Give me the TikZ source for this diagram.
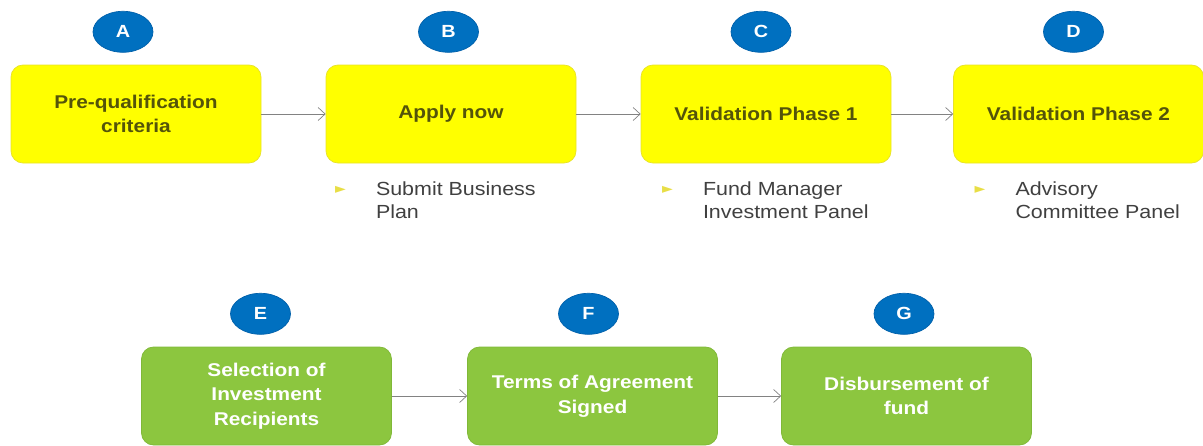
\documentclass[tikz,border=0pt]{standalone}
\usepackage{fontspec}
\setmainfont{Liberation Sans}[FakeStretch=1.13]
\newfontfamily\symfont{DejaVu Sans}
\usetikzlibrary{arrows,arrows.meta,positioning,shapes.geometric}
\definecolor{colstep}{RGB}{255,255,0}
\definecolor{colstepline}{RGB}{232,226,40}
\definecolor{colsteptxt}{RGB}{84,84,10}
\definecolor{colgreen}{RGB}{140,198,63}
\definecolor{colgreenline}{RGB}{128,184,56}
\definecolor{colblue}{RGB}{0,112,192}
\definecolor{colblueline}{RGB}{0,96,170}
\definecolor{colnote}{RGB}{64,64,64}
\definecolor{colbullet}{RGB}{232,222,70}
\definecolor{colarrow}{RGB}{130,130,130}
\tikzstyle{stage}=[draw=colstepline, fill=colstep, rounded corners=0.24cm, minimum width=5cm, minimum height=1.96cm, align=center, text=colsteptxt, font=\fontsize{10.5}{14}\selectfont\bfseries]
\tikzstyle{final}=[stage, draw=colgreenline, fill=colgreen, text=white]
\tikzstyle{tag}=[ellipse, draw=colblueline, fill=colblue, minimum width=1.2cm, minimum height=0.82cm, inner sep=0pt, text=white, font=\fontsize{10}{12}\selectfont\bfseries]
\tikzstyle{note}=[anchor=north west, align=left, inner sep=0pt, text=colnote, font=\fontsize{10.8}{13}\selectfont]
\tikzstyle{bullet}=[inner sep=0pt, text=colbullet, font=\symfont\fontsize{8}{8}\selectfont]

\begin{document}
\begin{tikzpicture}[node distance=6.3cm,auto,>={Straight Barb[length=1.4mm,width=2.6mm]}]
    \useasboundingbox (0,0) rectangle (24.06,-8.92);
    % top row
    \node [stage] (a) at (2.72,-2.28) {Pre-qualification\\criteria};
    \node [stage] (b) [right of=a] {Apply now};
    \node [stage] (c) [right of=b] {Validation Phase 1};
    \node [stage] (d) [right of=c,node distance=6.25cm] {Validation Phase 2};
    % bottom row
    \node [final] (e) at (5.33,-7.92) {Selection of\\Investment\\Recipients};
    \node [final] (f) [right of=e,node distance=6.52cm] {Terms of Agreement\\Signed};
    \node [final] (g) [right of=f,node distance=6.28cm] {Disbursement of\\fund};
    % letters
    \node [tag] (ta) [above=0.24cm of a, xshift=-0.26cm] {A};
    \node [tag] (tb) [above=0.24cm of b, xshift=-0.05cm] {B};
    \node [tag] (tc) [above=0.24cm of c, xshift=-0.1cm] {C};
    \node [tag] (td) [above=0.24cm of d, xshift=-0.1cm] {D};
    \node [tag] (te) [above=0.24cm of e, xshift=-0.12cm] {E};
    \node [tag] (tf) [above=0.24cm of f, xshift=-0.08cm] {F};
    \node [tag] (tg) [above=0.24cm of g, xshift=-0.05cm] {G};
    % notes
    \node [note] (nb) [below right=0.36cm and 1cm of b.south west] {Submit Business\\Plan};
    \node [note] (nc) [below right=0.36cm and 1.24cm of c.south west] {Fund Manager\\Investment Panel};
    \node [note] (nd) [below right=0.36cm and 1.24cm of d.south west] {Advisory\\Committee Panel};
    \node [bullet] (pb) at ([xshift=0.3cm,yshift=-0.54cm]b.south west) {►};
    \node [bullet] (pc) at ([xshift=0.54cm,yshift=-0.54cm]c.south west) {►};
    \node [bullet] (pd) at ([xshift=0.54cm,yshift=-0.54cm]d.south west) {►};
    \path[->,draw=colarrow,thin]
    (a) edge (b)
    (b) edge (c)
    (c) edge (d)
    (e) edge (f)
    (f) edge (g);
\end{tikzpicture}
\end{document}
